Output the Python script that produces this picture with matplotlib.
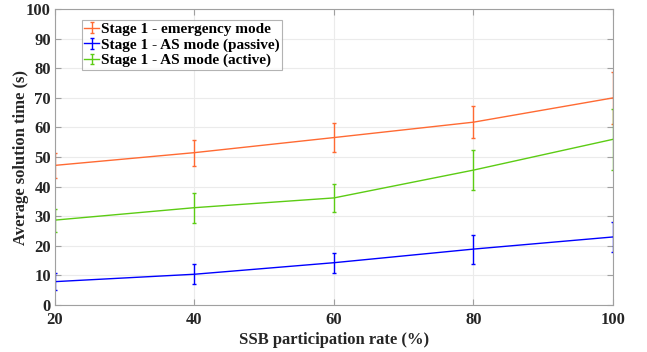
import matplotlib.pyplot as plt
from matplotlib.legend_handler import HandlerErrorbar
from matplotlib.container import ErrorbarContainer

# SSB participation rate (%)
rate = [20, 40, 60, 80, 100]

# average solution time (s) and error bar half-widths
emergency = [47.2, 51.5, 56.6, 61.8, 70.0]
emergency_err = [4.2, 4.4, 4.9, 5.5, 8.8]
passive = [7.9, 10.4, 14.3, 18.9, 23.0]
passive_err = [2.9, 3.3, 3.4, 4.9, 5.1]
active = [28.7, 32.9, 36.2, 45.6, 56.0]
active_err = [3.9, 5.1, 4.8, 6.8, 10.4]

plt.rcParams['font.family'] = ['Liberation Serif', 'DejaVu Serif']
plt.rcParams['font.weight'] = 'bold'

fig = plt.figure(figsize=(6.47, 3.52), dpi=100)
ax = fig.add_axes([0.085, 0.1335, 0.8624, 0.8405])

ax.errorbar(rate, emergency, yerr=emergency_err, color='#ff6a33', lw=1.0,
            elinewidth=1.0, capsize=1.5, label='Stage 1 - emergency mode')
ax.errorbar(rate, passive, yerr=passive_err, color='#0000ff', lw=1.0,
            elinewidth=1.0, capsize=1.5, label='Stage 1 - AS mode (passive)')
ax.errorbar(rate, active, yerr=active_err, color='#5ccc14', lw=1.0,
            elinewidth=1.0, capsize=1.5, label='Stage 1 - AS mode (active)')

ax.set_xlim(20, 100)
ax.set_ylim(0, 100)
ax.set_xticks(rate)
ax.set_yticks(range(0, 101, 10))
ax.grid(True, color='#ebebeb', lw=0.8)
ax.set_axisbelow(True)
for s in ax.spines.values():
    s.set_color('#a0a0a0')
ax.tick_params(direction='in', top=True, right=True, color='#a0a0a0',
               labelsize=12, length=4)
ax.tick_params(axis='x', pad=5)
ax.tick_params(axis='y', pad=3)
for lab in ax.get_xticklabels() + ax.get_yticklabels():
    lab.set_fontweight('bold')
    lab.set_color('#262626')

ax.set_xlabel('SSB participation rate (%)', fontsize=12, fontweight='bold',
              color='#262626', labelpad=3)
ax.set_ylabel('Average solution time (s)', fontsize=12, fontweight='bold',
              color='#262626', labelpad=-2)

leg = ax.legend(loc='upper left', bbox_to_anchor=(0.048, 0.963),
                prop={'weight': 'bold', 'size': 11}, frameon=True, fancybox=False,
                borderpad=0.15, labelspacing=0.12, handlelength=1.0,
                handletextpad=0.1, borderaxespad=0,
                handler_map={ErrorbarContainer: HandlerErrorbar(xerr_size=0.35)})
leg.get_frame().set_edgecolor('#a0a0a0')
leg.get_frame().set_linewidth(0.8)

fig.savefig('out.png', dpi=100)
